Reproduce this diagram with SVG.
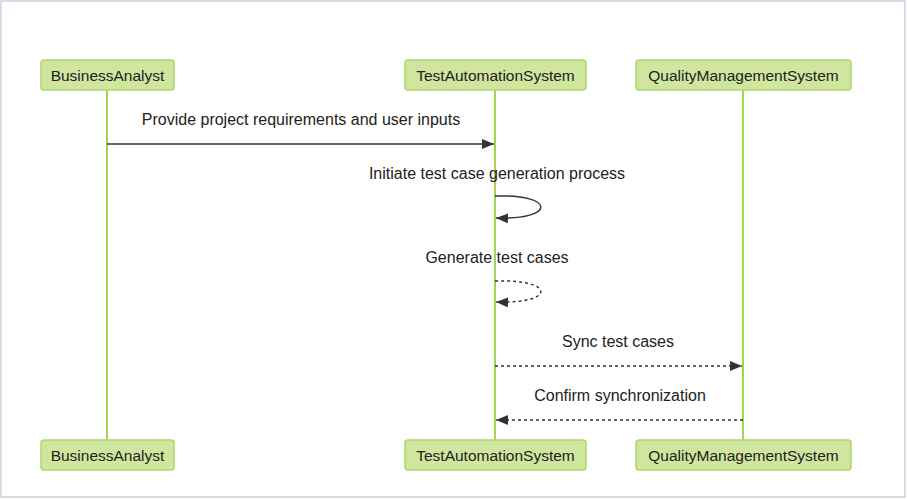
<svg xmlns="http://www.w3.org/2000/svg" width="907" height="499" viewBox="0 0 907 499">
<style>
.actor rect{fill:#d0e69f;stroke:#add86a;stroke-width:1.5}
.actor text,.lbl{font-family:"Liberation Sans",Arial,sans-serif;font-size:15.5px;fill:#222;text-anchor:middle}
.lbl{font-size:16px}
.life{stroke:#a5d24f;stroke-width:2}
.msg{fill:none;stroke:#333;stroke-width:1.5}
.dash{stroke-dasharray:3,3}
</style>
<defs>
<marker id="ah" viewBox="0 0 12 10" refX="12" refY="5" markerWidth="12" markerHeight="10" markerUnits="userSpaceOnUse" orient="auto">
<path d="M0,0 L12,5 L0,10 z" fill="#333"/>
</marker>
</defs>
<rect x="1" y="1" width="904" height="496" fill="#fff" stroke="#b0bad8" stroke-width="1"/>
<g id="lifelines">
<line class="life" x1="107" y1="90" x2="107" y2="440"/>
<line class="life" x1="495" y1="90" x2="495" y2="440"/>
<line class="life" x1="743" y1="90" x2="743" y2="440"/>
</g>
<g id="actor-ba-top" class="actor"><rect x="41" y="60" width="133" height="30" rx="3"/><text x="107.5" y="81">BusinessAnalyst</text></g>
<g id="actor-tas-top" class="actor"><rect x="405" y="60" width="181" height="30" rx="3"/><text x="495.5" y="81">TestAutomationSystem</text></g>
<g id="actor-qms-top" class="actor"><rect x="636" y="60" width="215" height="30" rx="3"/><text x="743.5" y="81">QualityManagementSystem</text></g>
<g id="actor-ba-bottom" class="actor"><rect x="41" y="440" width="133" height="30" rx="3"/><text x="107.5" y="461">BusinessAnalyst</text></g>
<g id="actor-tas-bottom" class="actor"><rect x="405" y="440" width="181" height="30" rx="3"/><text x="495.5" y="461">TestAutomationSystem</text></g>
<g id="actor-qms-bottom" class="actor"><rect x="636" y="440" width="215" height="30" rx="3"/><text x="743.5" y="461">QualityManagementSystem</text></g>
<g id="connectors">
<line class="msg" x1="107" y1="144" x2="494" y2="144" marker-end="url(#ah)"/>
<text class="lbl" x="301" y="125">Provide project requirements and user inputs</text>
<path class="msg" d="M495,196 C556,194 556,220 496,218" marker-end="url(#ah)"/>
<text class="lbl" x="497" y="179">Initiate test case generation process</text>
<path class="msg dash" d="M495,281 C556,279 556,304 496,302" marker-end="url(#ah)"/>
<text class="lbl" x="497" y="263">Generate test cases</text>
<line class="msg dash" x1="495" y1="366" x2="742" y2="366" marker-end="url(#ah)"/>
<text class="lbl" x="618" y="347">Sync test cases</text>
<line class="msg dash" x1="743" y1="420" x2="496" y2="420" marker-end="url(#ah)"/>
<text class="lbl" x="620" y="401">Confirm synchronization</text>
</g>
</svg>
